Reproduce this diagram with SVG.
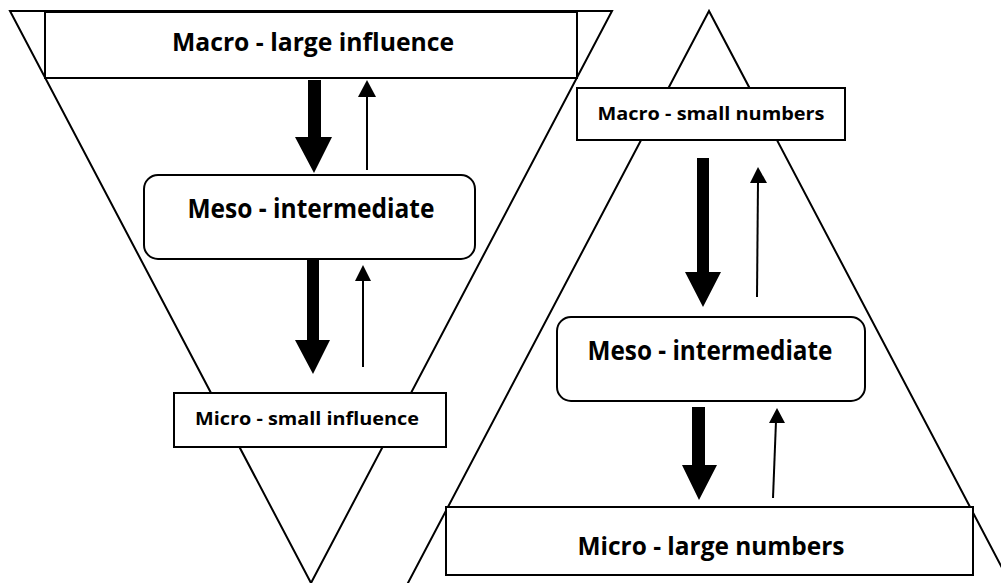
<svg xmlns="http://www.w3.org/2000/svg" width="1001" height="583" viewBox="0 0 1001 583">
  <style>
    .tri { fill: none; stroke: #000; stroke-width: 2; }
    .box { fill: #fff; stroke: #000; stroke-width: 2; }
    .lbl { font-family: "Open Sans", "Liberation Sans", sans-serif; font-weight: bold; fill: #000; text-anchor: middle; }
    .thin { stroke: #000; stroke-width: 2; fill: none; }
    .head { fill: #000; }
  </style>
  <rect width="1001" height="583" fill="#fff"/>

  <!-- Two framing triangles; the upright one's base lies below the page -->
  <g id="triangles">
    <polygon class="tri" points="10,11 612,11 311,583"/>
    <polygon class="tri" points="709,11 399,600 1019,600"/>
  </g>

  <!-- Left column: influence -->
  <g id="macro-influence">
    <rect class="box" x="45" y="12" width="532" height="66"/>
    <text class="lbl" x="313" y="51" font-size="25" textLength="282" lengthAdjust="spacingAndGlyphs">Macro - large influence</text>
  </g>
  <g id="meso-left">
    <rect class="box" x="144" y="175" width="331" height="84" rx="14"/>
    <text class="lbl" x="311" y="218" font-size="26" textLength="247" lengthAdjust="spacingAndGlyphs">Meso - intermediate</text>
  </g>
  <g id="micro-influence">
    <rect class="box" x="174" y="393" width="272" height="54"/>
    <text class="lbl" x="307" y="425" font-size="17.5" textLength="224" lengthAdjust="spacingAndGlyphs">Micro - small influence</text>
  </g>

  <!-- Right column: numbers -->
  <g id="macro-numbers">
    <rect class="box" x="577" y="88" width="268" height="52"/>
    <text class="lbl" x="711" y="120" font-size="18" textLength="227" lengthAdjust="spacingAndGlyphs">Macro - small numbers</text>
  </g>
  <g id="meso-right">
    <rect class="box" x="557" y="317" width="308" height="84" rx="14"/>
    <text class="lbl" x="710" y="360" font-size="26" textLength="245" lengthAdjust="spacingAndGlyphs">Meso - intermediate</text>
  </g>
  <g id="micro-numbers">
    <rect class="box" x="446" y="507" width="527" height="68"/>
    <text class="lbl" x="711" y="555" font-size="25" textLength="267" lengthAdjust="spacingAndGlyphs">Micro - large numbers</text>
  </g>

  <!-- Connectors: thick arrows point down, thin arrows point up -->
  <g id="connectors">
    <polygon class="head" points="308,80 321,80 321,137 332,137 314,173 295,137 308,137"/>
    <line class="thin" x1="367" y1="170" x2="367" y2="95"/>
    <polygon class="head" points="367,80 376,97 358,97"/>

    <polygon class="head" points="307,260 319,260 319,340 330,340 313,374 295,340 307,340"/>
    <line class="thin" x1="363" y1="367" x2="363" y2="279"/>
    <polygon class="head" points="363,265 371,281 355,281"/>

    <polygon class="head" points="697,158 709,158 709,272 721,272 703,307 685,272 697,272"/>
    <line class="thin" x1="757" y1="297" x2="758" y2="181"/>
    <polygon class="head" points="758,167 767,183 750,183"/>

    <polygon class="head" points="692,407 705,407 705,465 717,465 699,500 682,465 692,465"/>
    <line class="thin" x1="773" y1="498" x2="776" y2="421"/>
    <polygon class="head" points="777,408 785,423 769,423"/>
  </g>
</svg>
